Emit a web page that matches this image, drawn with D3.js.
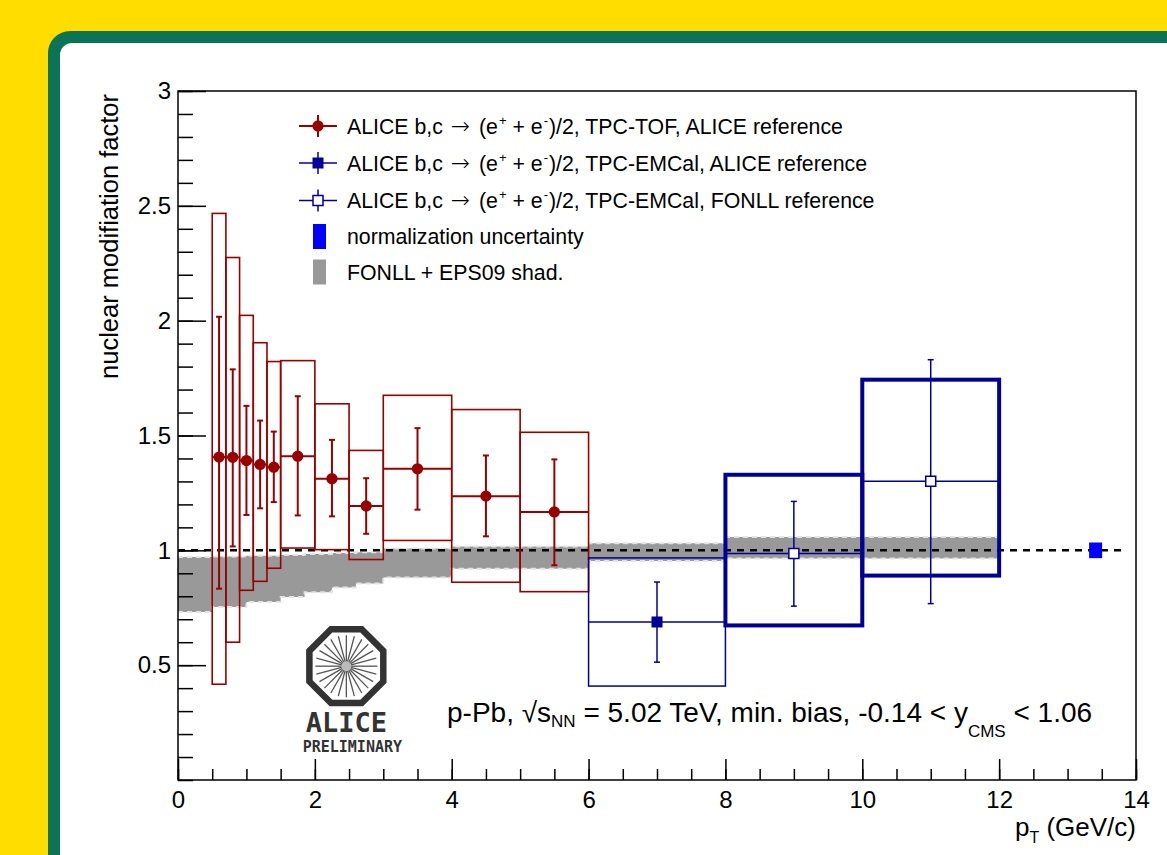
<!DOCTYPE html>
<html>
<head>
<meta charset="utf-8">
<script src="https://cdn.jsdelivr.net/npm/d3@7"></script>
<style>
  body { margin: 0; background: #ffffff; }
  text { font-family: "Liberation Sans", Arial, Helvetica, sans-serif; }
</style>
</head>
<body>
<svg id="chart_svg" width="1167" height="855"></svg>
<script>
// TPC-TOF, ALICE reference (red)
const tofPt = [0.6, 0.8, 1.0, 1.2, 1.4, 1.75, 2.25, 2.75, 3.5, 4.5, 5.5];
const tofBinLo = [0.5, 0.7, 0.9, 1.1, 1.3, 1.5, 2.0, 2.5, 3.0, 4.0, 5.0];
const tofBinHi = [0.7, 0.9, 1.1, 1.3, 1.5, 2.0, 2.5, 3.0, 4.0, 5.0, 6.0];
const tofRaa = [1.406, 1.405, 1.391, 1.374, 1.362, 1.41, 1.312, 1.193, 1.355, 1.236, 1.167];
const tofStatLo = [0.833, 1.017, 1.154, 1.183, 1.21, 1.152, 1.148, 1.072, 1.177, 1.061, 0.935];
const tofStatHi = [2.017, 1.788, 1.629, 1.565, 1.517, 1.671, 1.481, 1.314, 1.532, 1.413, 1.396];
const tofSysLo = [0.417, 0.6, 0.826, 0.865, 0.922, 1.01, 1.003, 0.96, 1.043, 0.861, 0.82];
const tofSysHi = [2.467, 2.275, 2.023, 1.904, 1.822, 1.826, 1.638, 1.435, 1.675, 1.613, 1.514];

// TPC-EMCal, ALICE reference (blue, full square)
const emcPt = [7];
const emcBinLo = [6];
const emcBinHi = [8];
const emcRaa = [0.688];
const emcStatLo = [0.513];
const emcStatHi = [0.862];
const emcSysLo = [0.409];
const emcSysHi = [0.967];

// TPC-EMCal, FONLL reference (blue, open square)
const fonPt = [9, 11];
const fonBinLo = [8, 10];
const fonBinHi = [10, 12];
const fonRaa = [0.986, 1.301];
const fonStatLo = [0.757, 0.768];
const fonStatHi = [1.213, 1.83];
const fonSysLo = [0.673, 0.89];
const fonSysHi = [1.329, 1.743];

// normalization uncertainty
const normPt = 13.41;
const normHalfWidth = 0.095;
const normLo = 0.966;
const normHi = 1.034;

// FONLL + EPS09 shadowing band
const bandEdges = [0, 0.5, 1.0, 1.5, 1.85, 2.25, 2.6, 3.0, 4.0, 6.0, 8.0, 10.0, 12.0];
const bandHi = [0.971, 0.973, 0.976, 0.98, 0.984, 0.988, 0.992, 1.008, 1.017, 1.031, 1.058, 1.058];
const bandLo = [0.732, 0.753, 0.775, 0.797, 0.818, 0.838, 0.856, 0.882, 0.92, 0.954, 0.964, 0.964];

const xTicks = [0, 2, 4, 6, 8, 10, 12, 14];
const yTicks = [0.5, 1, 1.5, 2, 2.5, 3];

const legendLabels = [
  ["ALICE b,c ", "\u2192", " (e", "+", " + e", "-", ")/2, TPC-TOF, ALICE reference"],
  ["ALICE b,c ", "\u2192", " (e", "+", " + e", "-", ")/2, TPC-EMCal, ALICE reference"],
  ["ALICE b,c ", "\u2192", " (e", "+", " + e", "-", ")/2, TPC-EMCal, FONLL reference"],
  ["normalization uncertainty"],
  ["FONLL + EPS09 shad."]
];

const RED = "#990000";
const BLUE = "#000099";

let svg = d3.select("#chart_svg");

const margin = { top: 91, bottom: 75, left: 178, right: 31 };
const width = 1167;
const height = 855;

// background: yellow with green rounded frame
svg.append("rect").attr("width", width).attr("height", height).attr("fill", "#ffdd00");
svg.append("rect").attr("x", 48).attr("y", 31).attr("width", 1200).attr("height", 900)
  .attr("rx", 22).attr("fill", "#0b7457");
svg.append("rect").attr("x", 60).attr("y", 43).attr("width", 1200).attr("height", 900)
  .attr("rx", 12).attr("fill", "#ffffff");

const xScale = d3.scaleLinear().domain([0, 14]).range([margin.left, width - margin.right]);
const yScale = d3.scaleLinear().domain([0, 3]).range([height - margin.bottom, margin.top]);

let g = svg.append("g").attr("id", "g_chart");

/**
 * FONLL band
 */
let bandData = bandEdges.map((e, i) => ({
  x: e,
  lo: i < bandLo.length ? bandLo[i] : bandLo[bandLo.length - 1],
  hi: i < bandHi.length ? bandHi[i] : bandHi[bandHi.length - 1]
}));

let bandArea = d3.area()
  .x((d) => xScale(d.x))
  .y0((d) => yScale(d.lo))
  .y1((d) => yScale(d.hi))
  .curve(d3.curveStepAfter);

g.append("path").datum(bandData)
  .attr("fill", "#999999")
  .attr("d", bandArea);

let bandTop = d3.line().x((d) => xScale(d.x)).y((d) => yScale(d.hi)).curve(d3.curveStepAfter);
let bandBot = d3.line().x((d) => xScale(d.x)).y((d) => yScale(d.lo)).curve(d3.curveStepAfter);
[bandTop, bandBot].forEach((ln) => {
  g.append("path").datum(bandData)
    .attr("fill", "none")
    .attr("stroke", "#e4e4e4")
    .attr("stroke-width", 2)
    .attr("stroke-dasharray", "5,4")
    .attr("d", ln);
});

// unity line
g.append("line")
  .attr("x1", xScale(0)).attr("x2", xScale(13.8))
  .attr("y1", yScale(1)).attr("y2", yScale(1))
  .attr("stroke", "#000")
  .attr("stroke-width", 2.5)
  .attr("stroke-dasharray", "7,6");

/**
 * helper to draw one data set
 */
function drawSet(pt, lo, hi, raa, sLo, sHi, yLo, yHi, color, boxWidth, barWidth, capW, marker) {
  let data = pt.map((p, i) => ({
    pt: p, lo: lo[i], hi: hi[i], raa: raa[i],
    sLo: sLo[i], sHi: sHi[i], yLo: yLo[i], yHi: yHi[i]
  }));
  let grp = g.append("g");

  grp.selectAll(".sys").data(data).enter().append("rect")
    .attr("class", "sys")
    .attr("x", (d) => xScale(d.lo))
    .attr("y", (d) => yScale(d.yHi))
    .attr("width", (d) => xScale(d.hi) - xScale(d.lo))
    .attr("height", (d) => yScale(d.yLo) - yScale(d.yHi))
    .attr("fill", "none")
    .attr("stroke", color)
    .attr("stroke-width", boxWidth);

  grp.selectAll(".xerr").data(data).enter().append("line")
    .attr("x1", (d) => xScale(d.lo)).attr("x2", (d) => xScale(d.hi))
    .attr("y1", (d) => yScale(d.raa)).attr("y2", (d) => yScale(d.raa))
    .attr("stroke", color).attr("stroke-width", barWidth);

  grp.selectAll(".yerr").data(data).enter().append("line")
    .attr("x1", (d) => xScale(d.pt)).attr("x2", (d) => xScale(d.pt))
    .attr("y1", (d) => yScale(d.sLo)).attr("y2", (d) => yScale(d.sHi))
    .attr("stroke", color).attr("stroke-width", barWidth);

  ["sLo", "sHi"].forEach((k) => {
    grp.selectAll(".cap" + k).data(data).enter().append("line")
      .attr("x1", (d) => xScale(d.pt) - capW).attr("x2", (d) => xScale(d.pt) + capW)
      .attr("y1", (d) => yScale(d[k])).attr("y2", (d) => yScale(d[k]))
      .attr("stroke", color).attr("stroke-width", barWidth);
  });

  grp.selectAll(".pt").data(data).enter().append("path")
    .attr("transform", (d) => "translate(" + xScale(d.pt) + "," + yScale(d.raa) + ")")
    .each(function () { drawMarker(d3.select(this), marker, color); });
}

function drawMarker(sel, marker, color) {
  if (marker === "circle") {
    sel.attr("d", d3.symbol(d3.symbolCircle, 100)())
      .attr("fill", color);
  } else if (marker === "square") {
    sel.attr("d", "M-5.5,-5.5H5.5V5.5H-5.5Z").attr("fill", color);
  } else {
    sel.attr("d", "M-5,-5H5V5H-5Z").attr("fill", "#fff")
      .attr("stroke", color).attr("stroke-width", 1.5);
  }
}

drawSet(tofPt, tofBinLo, tofBinHi, tofRaa, tofStatLo, tofStatHi, tofSysLo, tofSysHi,
  RED, 1.6, 2, 3, "circle");
drawSet(emcPt, emcBinLo, emcBinHi, emcRaa, emcStatLo, emcStatHi, emcSysLo, emcSysHi,
  BLUE, 1.5, 1.5, 3, "square");
drawSet(fonPt, fonBinLo, fonBinHi, fonRaa, fonStatLo, fonStatHi, fonSysLo, fonSysHi,
  BLUE, 4, 1.5, 3, "open");

// normalization box
g.append("rect")
  .attr("x", xScale(normPt - normHalfWidth))
  .attr("y", yScale(normHi))
  .attr("width", xScale(normPt + normHalfWidth) - xScale(normPt - normHalfWidth))
  .attr("height", yScale(normLo) - yScale(normHi))
  .attr("fill", "#0000ff");

/**
 * Axes
 */
let y_axis = d3.axisLeft(yScale).tickValues(yTicks).tickSizeInner(-28).tickSizeOuter(0)
  .tickPadding(7).tickFormat(d3.format(""));
let gy = svg.append("g").attr("transform", "translate(" + margin.left + ",0)").call(y_axis);
let y_minor = d3.axisLeft(yScale).tickValues(d3.range(0, 3.0001, 0.1).map((v) => +v.toFixed(1)))
  .tickSizeInner(-15).tickSizeOuter(0).tickFormat("");
let gym = svg.append("g").attr("transform", "translate(" + margin.left + ",0)").call(y_minor);

let x_axis = d3.axisBottom(xScale).tickValues(xTicks).tickSizeInner(-21).tickSizeOuter(0)
  .tickPadding(11).tickFormat(d3.format("d"));
let gx = svg.append("g").attr("transform", "translate(0," + (height - margin.bottom) + ")").call(x_axis);
let x_minor = d3.axisBottom(xScale).tickValues(d3.range(0, 14.001, 0.5))
  .tickSizeInner(-11).tickSizeOuter(0).tickFormat("");
let gxm = svg.append("g").attr("transform", "translate(0," + (height - margin.bottom) + ")").call(x_minor);

[gy, gym, gx, gxm].forEach((a) => {
  a.select(".domain").remove();
  a.selectAll("line").attr("stroke", "#000").attr("stroke-width", 1.5);
  a.selectAll("text").style("font-family", "Liberation Sans, Arial, sans-serif")
    .attr("font-size", 24).attr("fill", "#000");
});

// frame
svg.append("rect")
  .attr("x", xScale(0)).attr("y", yScale(3))
  .attr("width", xScale(14) - xScale(0))
  .attr("height", yScale(0) - yScale(3))
  .attr("fill", "none").attr("stroke", "#000").attr("stroke-width", 1.5);

// axis titles
let xt = svg.append("text")
  .attr("x", xScale(14)).attr("y", 836)
  .attr("text-anchor", "end")
  .attr("font-size", 26);
xt.append("tspan").text("p");
xt.append("tspan").attr("font-size", 16).attr("dy", 7).text("T");
xt.append("tspan").attr("dy", -7).text(" (GeV/c)");

svg.append("text")
  .attr("transform", "translate(118," + (yScale(3) + 3) + ") rotate(-90)")
  .attr("text-anchor", "end")
  .attr("font-size", 25.5)
  .text("nuclear modifiation factor");

/**
 * Legend
 */
const legend = svg.append("g").attr("class", "legend");
const legendRows = [126, 163, 200.5, 236.5, 272];
const legendMarkX = 318;

legendLabels.forEach((parts, i) => {
  let ly = legendRows[i];
  let item = legend.append("g");
  if (i < 3) {
    let col = i === 0 ? RED : BLUE;
    item.append("line").attr("x1", 299).attr("x2", 337).attr("y1", ly).attr("y2", ly)
      .attr("stroke", col).attr("stroke-width", i === 0 ? 2 : 1.5);
    item.append("line").attr("x1", legendMarkX).attr("x2", legendMarkX)
      .attr("y1", ly - 11).attr("y2", ly + 11)
      .attr("stroke", col).attr("stroke-width", i === 0 ? 2 : 1.5);
    let mk = item.append("path").attr("transform", "translate(" + legendMarkX + "," + ly + ")");
    drawMarker(mk, ["circle", "square", "open"][i], col);
  } else {
    item.append("rect").attr("x", 313).attr("y", ly - 12.5).attr("width", 13).attr("height", 25)
      .attr("fill", i === 3 ? "#0000ff" : "#999999");
  }
  let t = item.append("text").attr("x", 347).attr("y", ly + 7.5).attr("font-size", 21.3);
  if (parts.length === 1) {
    t.text(parts[0]);
  } else {
    t.append("tspan").text(parts[0]);
    t.append("tspan").style("font-family", "DejaVu Sans, sans-serif").attr("font-size", 23)
      .attr("font-weight", 300).attr("dx", 2).text(parts[1]);
    t.append("tspan").attr("dx", 3).text(parts[2]);
    t.append("tspan").attr("font-size", 13).attr("dy", -9).attr("dx", 1).text(parts[3]);
    t.append("tspan").attr("dy", 9).text(parts[4]);
    t.append("tspan").attr("font-size", 13).attr("dy", -9).attr("dx", 1).text(parts[5]);
    t.append("tspan").attr("dy", 9).attr("dx", 1).text(parts[6]);
  }
});

/**
 * Annotation
 */
let ann = svg.append("text").attr("x", 447).attr("y", 722).attr("font-size", 28);
ann.append("tspan").text("p-Pb, \u221A");
ann.append("tspan").text("s");
ann.append("tspan").attr("font-size", 17).attr("dy", 5).text("NN");
ann.append("tspan").attr("dy", -5).text(" = 5.02 TeV, min. bias, -0.14 < y");
ann.append("tspan").attr("font-size", 17).attr("dy", 15).text("CMS");
ann.append("tspan").attr("dy", -15).text(" < 1.06");

/**
 * ALICE Preliminary logo
 */
const logo = svg.append("g")
  .attr("transform", "translate(" + xScale(2.46) + "," + (yScale(0.5) + 1) + ")");
const octR = 40;
let oct = d3.range(8).map((k) => {
  let a = Math.PI / 8 + k * Math.PI / 4;
  return [octR * Math.cos(a), octR * Math.sin(a)];
});
logo.append("path")
  .attr("d", d3.line()(oct) + "Z")
  .attr("fill", "none").attr("stroke", "#333").attr("stroke-width", 6.5);
d3.range(24).forEach((k) => {
  let a = k * Math.PI / 12;
  logo.append("line")
    .attr("x1", 4 * Math.cos(a)).attr("y1", 4 * Math.sin(a))
    .attr("x2", 31 * Math.cos(a)).attr("y2", 31 * Math.sin(a))
    .attr("stroke", "#555").attr("stroke-width", 1.3);
});
logo.append("circle").attr("r", 5).attr("fill", "#bbb");
logo.append("text").attr("x", 0).attr("y", 66).attr("text-anchor", "middle")
  .style("font-family", "DejaVu Sans Mono, monospace").attr("font-weight", "bold")
  .attr("font-size", 27).attr("fill", "#333").text("ALICE");
logo.append("text").attr("x", 6).attr("y", 86).attr("text-anchor", "middle")
  .style("font-family", "DejaVu Sans Mono, monospace").attr("font-weight", "bold")
  .attr("font-size", 15).attr("fill", "#333").text("PRELIMINARY");
</script>
</body>
</html>
